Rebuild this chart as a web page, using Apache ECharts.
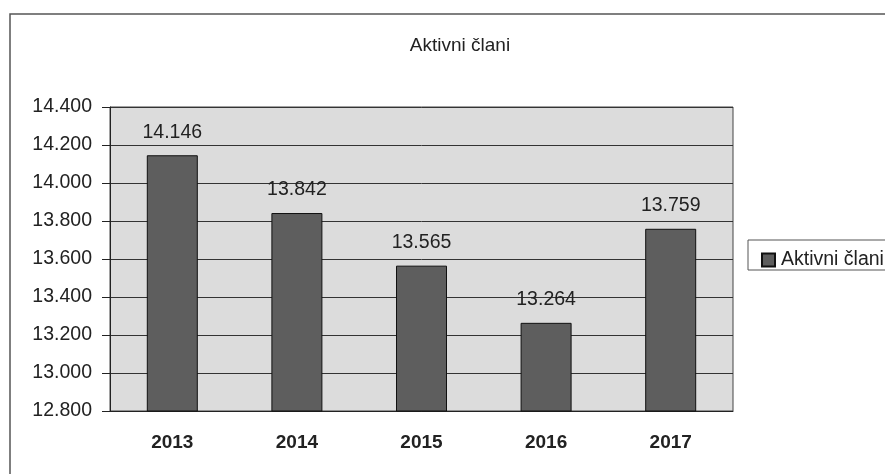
<!DOCTYPE html>
<html>
<head>
<meta charset="utf-8">
<script src="https://cdn.jsdelivr.net/npm/echarts@6/dist/echarts.min.js"></script>
<style>html,body{margin:0;padding:0;background:#fff;}#c{width:885px;height:474px;}</style>
</head>
<body>
<div id="c"></div>
<script>
var categories = ['2013', '2014', '2015', '2016', '2017'];
var values = [14146, 13842, 13565, 13264, 13759];
var seriesName = 'Aktivni člani';
var titleText = 'Aktivni člani';

function fmt(v) {
  return String(v).replace(/\B(?=(\d{3})+(?!\d))/g, '.');
}

var FONT = 'Liberation Sans, Arial, sans-serif';
var chart = echarts.init(document.getElementById('c'));
chart.setOption({
  animation: false,
  backgroundColor: '#fff',
  title: {
    text: titleText,
    left: 455, top: 31, textAlign: 'center',
    textStyle: { fontFamily: FONT, fontWeight: 'normal', fontSize: 19, color: '#222' }
  },
  graphic: [
    { type: 'rect', shape: { x: 10, y: 14, width: 890, height: 480 }, style: { fill: 'none', stroke: '#555', lineWidth: 1.5 }, z: -1 },
    { type: 'rect', shape: { x: 748, y: 240, width: 150, height: 30 }, style: { fill: '#fff', stroke: '#555', lineWidth: 1 }, z: 0 }
  ],
  legend: {
    left: 756, top: 245,
    itemWidth: 13, itemHeight: 13, itemGap: 4,
    icon: 'rect',
    textStyle: { fontFamily: FONT, fontSize: 19.5, color: '#222', padding: [0, 0, 0, 1] },
    data: [seriesName]
  },
  grid: { left: 110, right: 152, top: 107, bottom: 63, show: true, backgroundColor: '#dcdcdc', borderColor: '#444', borderWidth: 1 },
  xAxis: {
    type: 'category', data: categories,
    axisLine: { lineStyle: { color: '#222' } },
    axisTick: { show: false },
    axisLabel: { margin: 22, fontFamily: FONT, fontWeight: 'bold', fontSize: 19, color: '#222' }
  },
  yAxis: {
    type: 'value', min: 12800, max: 14400, interval: 200,
    axisLine: { show: true, lineStyle: { color: '#222' } },
    axisTick: { show: true, length: 8, lineStyle: { color: '#222' } },
    splitLine: { lineStyle: { color: '#333', width: 1 } },
    axisLabel: { margin: 18, fontFamily: FONT, fontSize: 19.5, color: '#222', formatter: function (v) { return fmt(v); } }
  },
  series: [{
    name: seriesName, type: 'bar', data: values,
    barWidth: 51,
    itemStyle: { color: '#5e5e5e', borderColor: '#111', borderWidth: 1 },
    label: { show: true, position: 'top', distance: 13, fontFamily: FONT, fontSize: 19.5, color: '#222', formatter: function (p) { return fmt(p.value); } }
  }]
});
</script>
</body>
</html>
